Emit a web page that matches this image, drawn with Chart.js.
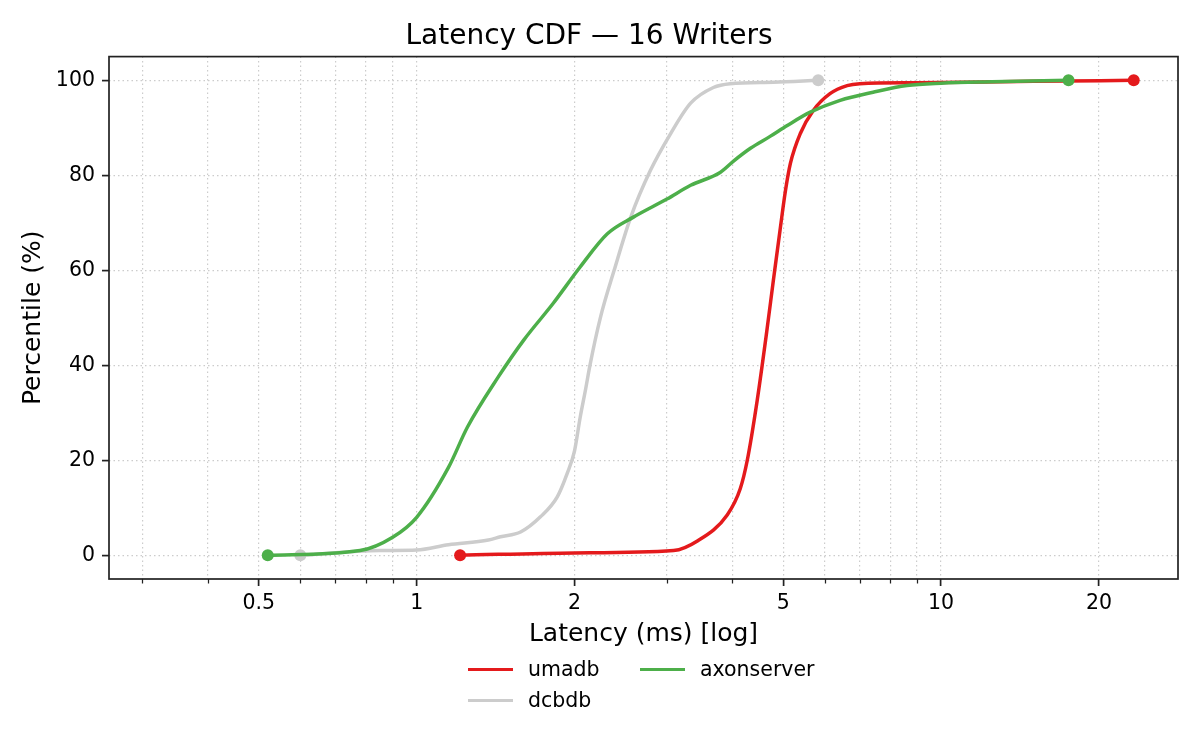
<!DOCTYPE html>
<html>
<head>
<meta charset="utf-8">
<title>Latency CDF — 16 Writers</title>
<script src="https://cdn.jsdelivr.net/npm/chart.js@4.4.1/dist/chart.umd.min.js"></script>
<style>
    body { margin: 0; background: #fff; }
    #wrap { position: relative; width: 1200px; height: 750px; }
    #legend {
        position: absolute;
        left: 468px;
        top: 654px;
        display: grid;
        grid-auto-flow: column;
        grid-template-rows: repeat(2, 31px);
        grid-template-columns: 172px auto;
        font-family: 'DejaVu Sans', sans-serif;
        font-size: 20.5px;
        color: #000;
    }
    #legend .item { display: flex; align-items: center; line-height: 31px; }
    #legend .swatch { display: inline-block; width: 45px; height: 3.4px; margin-right: 15px; }
</style>
</head>
<body>
<div id="wrap">
    <canvas id="chart" width="1200" height="750"></canvas>
    <div id="legend"></div>
</div>
<script>
'use strict';

// values
const umadbLatency = [1.21, 2.0, 3.09, 3.43, 3.91, 4.14, 4.27, 4.46, 4.65, 4.79, 4.93, 5.05, 5.16, 5.39, 5.71, 6.14, 6.62, 7.0, 9.0, 15, 23.3];
const umadbPct     = [0, 0.5, 1.0, 3.0, 8.5, 14, 20, 32.6, 47, 58, 68.4, 76.8, 82.5, 88.8, 93.7, 97.2, 98.9, 99.3, 99.5, 99.8, 100];

const dcbdbLatency = [0.6, 0.85, 1.0, 1.15, 1.37, 1.445, 1.578, 1.722, 1.854, 1.936, 2.0, 2.05, 2.1, 2.14, 2.24, 2.38, 2.56, 2.79, 3.05, 3.33, 3.68, 3.96, 4.79, 5.83];
const dcbdbPct     = [0, 1.0, 1.1, 2.2, 3.2, 3.9, 4.9, 8.1, 12.3, 17.2, 22, 29, 35, 40, 50, 60, 71.2, 81, 88.8, 95.2, 98.5, 99.3, 99.6, 100];

const axonLatency = [0.52, 0.78, 0.9, 1.0, 1.15, 1.25, 1.43, 1.6, 1.82, 2.05, 2.31, 2.59, 3.0, 3.33, 3.79, 4.02, 4.33, 4.72, 5.09, 5.63, 6.42, 7.42, 8.61, 10, 12.5, 17.5];
const axonPct     = [0, 1.0, 3.8, 8, 18.5, 27, 37.5, 45.3, 53, 60.7, 67.7, 71.2, 75, 77.9, 80.6, 83, 85.7, 88.2, 90.5, 93.3, 95.8, 97.5, 98.9, 99.4, 99.7, 100];

const seriesNames  = ['umadb', 'dcbdb', 'axonserver'];
const seriesColors = ['#e41a1c', '#cccccc', '#4daf4a'];

const majorTicks = [0.5, 1, 2, 5, 10, 20];
const minorTicks = [0.3, 0.4, 0.6, 0.7, 0.8, 0.9, 3, 4, 6, 7, 8, 9];
const yTicks = [0, 20, 40, 60, 80, 100];

const FONT = 'DejaVu Sans';
Chart.defaults.color = '#000';
Chart.defaults.font.family = FONT;

function toPoints(xs, ys) {
    return xs.map((x, i) => ({x: x, y: ys[i]}));
}

function makeDataset(idx, xs, ys, order) {
    const last = xs.length - 1;
    return {
        label: seriesNames[idx],
        data: toPoints(xs, ys),
        borderColor: seriesColors[idx],
        backgroundColor: seriesColors[idx],
        borderWidth: 3.5,
        cubicInterpolationMode: 'monotone',
        pointRadius: ctx => (ctx.dataIndex === 0 || ctx.dataIndex === last) ? 6 : 0,
        pointHoverRadius: 0,
        pointBorderWidth: 0,
        order: order
    };
}

// frame on all four sides plus the short minor tick marks
const framePlugin = {
    id: 'frame',
    afterDatasetsDraw(chart) {
        const {ctx, chartArea: a, scales} = chart;
        ctx.save();
        ctx.strokeStyle = '#222';
        ctx.lineWidth = 1.7;
        ctx.strokeRect(a.left, a.top, a.right - a.left, a.bottom - a.top);
        ctx.lineWidth = 1.25;
        minorTicks.forEach(v => {
            const px = Math.round(scales.x.getPixelForValue(v)) + 0.5;
            ctx.beginPath();
            ctx.moveTo(px, a.bottom);
            ctx.lineTo(px, a.bottom + 4.5);
            ctx.stroke();
        });
        ctx.restore();
    }
};

const chart = new Chart(document.getElementById('chart').getContext('2d'), {
    type: 'line',
    data: {
        datasets: [
            makeDataset(0, umadbLatency, umadbPct, 2),
            makeDataset(1, dcbdbLatency, dcbdbPct, 1),
            makeDataset(2, axonLatency, axonPct, 0)
        ]
    },
    options: {
        responsive: false,
        animation: false,
        events: [],
        layout: {padding: {left: 0, right: 22, top: 0, bottom: 100}},
        plugins: {
            legend: {display: false},
            tooltip: {enabled: false},
            title: {
                display: true,
                text: 'Latency CDF — 16 Writers',
                color: '#000',
                font: {family: FONT, size: 28, weight: 'normal'},
                padding: {top: 20, bottom: 3}
            }
        },
        scales: {
            x: {
                type: 'logarithmic',
                min: 0.259,
                max: 28.3,
                afterBuildTicks: scale => {
                    scale.ticks = majorTicks.concat(minorTicks)
                        .sort((a, b) => a - b)
                        .map(v => ({value: v}));
                },
                afterFit: scale => { scale.height = 71; },
                ticks: {
                    autoSkip: false,
                    maxRotation: 0,
                    padding: 5,
                    font: {size: 20.5},
                    callback: value => majorTicks.includes(value) ? String(value) : ''
                },
                grid: {
                    color: '#cccccc',
                    lineWidth: 1.2,
                    tickLength: 7,
                    tickWidth: 1.7,
                    tickColor: ctx => (ctx.tick && majorTicks.includes(ctx.tick.value)) ? '#222' : 'rgba(0,0,0,0)'
                },
                border: {display: false, dash: [1.5, 3]},
                title: {
                    display: true,
                    text: 'Latency (ms) [log]',
                    font: {size: 25},
                    padding: {top: 0, bottom: 1}
                }
            },
            y: {
                type: 'linear',
                min: -5,
                max: 105,
                afterBuildTicks: scale => {
                    scale.ticks = yTicks.map(v => ({value: v}));
                },
                afterFit: scale => { scale.width = 109; },
                ticks: {
                    padding: 7,
                    font: {size: 20.5}
                },
                grid: {
                    color: '#cccccc',
                    lineWidth: 1.2,
                    tickLength: 7,
                    tickWidth: 1.7,
                    tickColor: '#222'
                },
                border: {display: false, dash: [1.5, 3]},
                title: {
                    display: true,
                    text: 'Percentile (%)',
                    font: {size: 25},
                    padding: {top: 18, bottom: 0}
                }
            }
        }
    },
    plugins: [framePlugin]
});

// legend laid out in two columns, filled column by column
const legendEl = document.getElementById('legend');
seriesNames.forEach((name, i) => {
    const item = document.createElement('div');
    item.className = 'item';
    item.innerHTML = `<span class="swatch" style="background:${seriesColors[i]}"></span>${name}`;
    legendEl.appendChild(item);
});
</script>
</body>
</html>
